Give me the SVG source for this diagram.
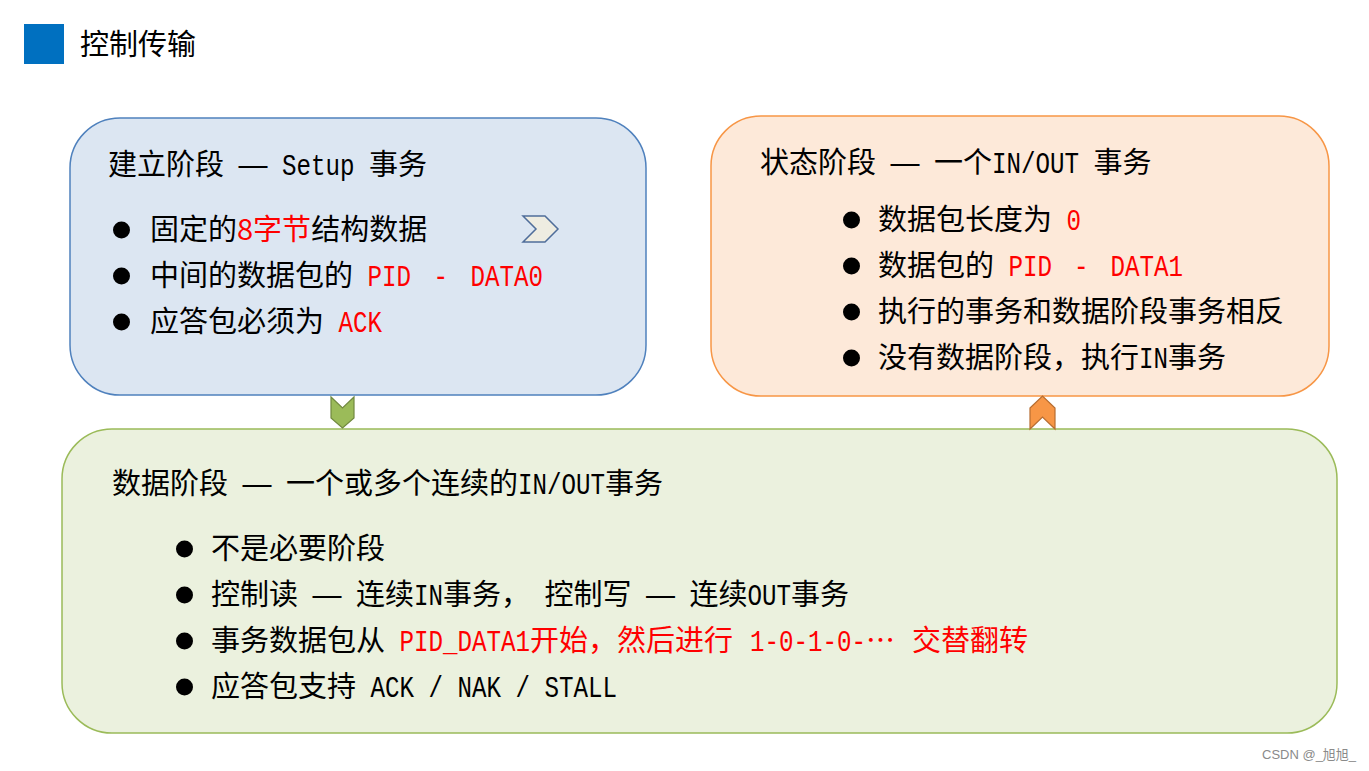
<svg xmlns="http://www.w3.org/2000/svg" width="1369" height="771" viewBox="0 0 1369 771">
<style>
text{fill:#000}
.c{font-family:"Noto Sans CJK SC","Noto Sans",sans-serif;font-size:29px}
.d{font-family:"Liberation Sans","Noto Sans CJK SC",sans-serif;font-size:29px}
.l{font-family:"Liberation Mono","DejaVu Sans Mono",monospace;font-size:30px}
.r{fill:#FF0000}
.box{stroke-width:1.5}
.bul{fill:#000}
</style>
<rect width="1369" height="771" fill="#FFFFFF"/>
<g id="title">
<rect x="24" y="24" width="40" height="40" fill="#0070C0"/>
<text x="80" y="55" class="c">控制传输</text>
</g>
<g id="setup">
<rect class="box" x="70" y="118" width="576" height="277" rx="50" ry="50" fill="#DCE6F2" stroke="#4F81BD"/>
<text y="175" x="108" class="c">建立阶段</text>
<text y="175" x="238.5" class="d">—</text>
<text class="l" transform="translate(282,175) scale(0.806,1)">Setup</text>
<text y="175" x="369" class="c">事务</text>
<circle class="bul" cx="121.5" cy="230" r="8.5"/>
<text y="240" x="150" class="c">固定的<tspan class="r">8字节</tspan>结构数据</text>
<circle class="bul" cx="121.5" cy="276" r="8.5"/>
<text y="286" x="150" class="c">中间的数据包的</text>
<text class="l r" transform="translate(367.5,286) scale(0.806,1)">PID</text>
<text class="l r" transform="translate(433.5,286) scale(0.806,1)">-</text>
<text class="l r" transform="translate(470.5,286) scale(0.806,1)">DATA0</text>
<circle class="bul" cx="121.5" cy="322" r="8.5"/>
<text y="332" x="150" class="c">应答包必须为</text>
<text class="l r" transform="translate(338.5,332) scale(0.806,1)">ACK</text>
<polygon points="523,216 545,216 558,229 545,242 523,242 536,229" fill="#EEECE1" stroke="#4F6D9A" stroke-width="1.5"/>
</g>
<g id="status">
<rect class="box" x="711" y="116" width="618" height="280" rx="50" ry="50" fill="#FDE9D9" stroke="#F79646"/>
<text y="173" x="760" class="c">状态阶段</text>
<text y="173" x="890.5" class="d">—</text>
<text y="173" x="934" class="c">一个</text>
<text class="l" transform="translate(992,173) scale(0.806,1)">IN/OUT</text>
<text y="173" x="1093.5" class="c">事务</text>
<circle class="bul" cx="851.5" cy="220" r="8.5"/>
<text y="230" x="878" class="c">数据包长度为</text>
<text class="l r" transform="translate(1066.5,230) scale(0.806,1)">0</text>
<circle class="bul" cx="851.5" cy="266" r="8.5"/>
<text y="276" x="878" class="c">数据包的</text>
<text class="l r" transform="translate(1008.5,276) scale(0.806,1)">PID</text>
<text class="l r" transform="translate(1074,276) scale(0.806,1)">-</text>
<text class="l r" transform="translate(1110.5,276) scale(0.806,1)">DATA1</text>
<circle class="bul" cx="851.5" cy="312" r="8.5"/>
<text y="322" x="878" class="c">执行的事务和数据阶段事务相反</text>
<circle class="bul" cx="851.5" cy="358" r="8.5"/>
<text y="368" x="878" class="c">没有数据阶段，执行</text>
<text class="l" transform="translate(1139,368) scale(0.806,1)">IN</text>
<text y="368" x="1168" class="c">事务</text>
</g>
<g id="data">
<rect class="box" x="62" y="429" width="1275" height="304" rx="50" ry="50" fill="#EBF1DE" stroke="#9BBB59"/>
<text y="494" x="112" class="c">数据阶段</text>
<text y="494" x="242.5" class="d">—</text>
<text y="494" x="286" class="c">一个或多个连续的</text>
<text class="l" transform="translate(518,494) scale(0.806,1)">IN/OUT</text>
<text y="494" x="605" class="c">事务</text>
<circle class="bul" cx="184.5" cy="549" r="8.5"/>
<text y="559" x="211" class="c">不是必要阶段</text>
<circle class="bul" cx="184.5" cy="595" r="8.5"/>
<text y="605" x="211" class="c">控制读</text>
<text y="605" x="312.5" class="d">—</text>
<text y="605" x="356" class="c">连续</text>
<text class="l" transform="translate(414,605) scale(0.806,1)">IN</text>
<text y="605" x="443" class="c">事务，</text>
<text y="605" x="544.5" class="c">控制写</text>
<text y="605" x="646" class="d">—</text>
<text y="605" x="689.5" class="c">连续</text>
<text class="l" transform="translate(747.5,605) scale(0.806,1)">OUT</text>
<text y="605" x="791" class="c">事务</text>
<circle class="bul" cx="184.5" cy="641" r="8.5"/>
<text y="651" x="211" class="c">事务数据包从</text>
<text class="l r" transform="translate(399.5,651) scale(0.806,1)">PID_DATA1</text>
<text y="651" x="530" class="c r">开始，然后进行</text>
<text class="l r" transform="translate(750,651) scale(0.806,1)">1-0-1-0-</text>
<text y="651" x="866" class="c r">…</text>
<text y="651" x="912" class="c r">交替翻转</text>
<circle class="bul" cx="184.5" cy="687" r="8.5"/>
<text y="697" x="211" class="c">应答包支持</text>
<text class="l" transform="translate(370.5,697) scale(0.806,1)">ACK / NAK / STALL</text>
</g>
<g id="connectors">
<polygon points="331,397 342.5,408 354,397 354,418 342.5,428 331,418" fill="#9BBB59" stroke="#71893F" stroke-width="1.2"/>
<polygon points="1030,408 1042.5,396 1055,408 1055,429 1042.5,417 1030,429" fill="#F79646" stroke="#B66D31" stroke-width="1.2"/>
</g>
<text x="1262" y="759" style="font-family:'Liberation Sans','Noto Sans CJK SC',sans-serif;font-size:13px;fill:#8A8A8A">CSDN @_旭旭_</text>
</svg>
